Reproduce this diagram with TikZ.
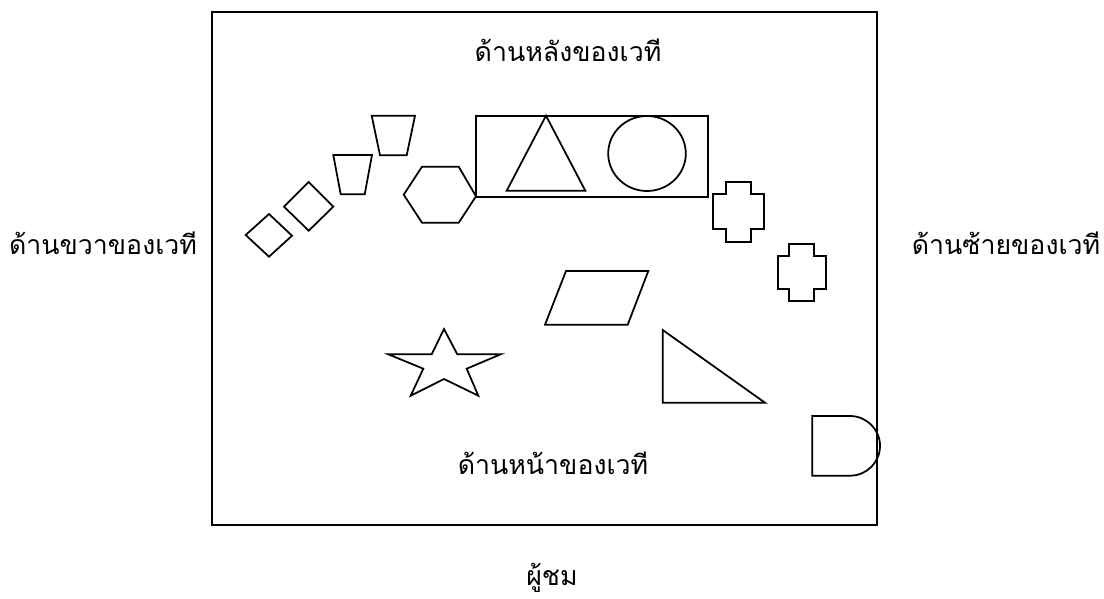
\documentclass[tikz,border=0pt]{standalone}
\usepackage{fontspec}
\setmainfont[Script=Thai]{Loma}
\usepackage{tikz}
\usetikzlibrary{positioning}

\begin{document}
\begin{tikzpicture}[x=0.02cm, y=-0.02cm, font=\fontsize{15.2}{18}\selectfont,
    prop/.style={draw, line width=1pt, line join=miter},
    lbl/.style={inner sep=0pt}]
    \useasboundingbox (0,0) rectangle (1104,598);
    % stage
    \draw[line width=1pt] (212,12) rectangle (877,525);
    \node[lbl] (back) at (568,50) {ด้านหลังของเวที};
    \node[lbl] (front) at (553,463) {ด้านหน้าของเวที};
    \node[lbl] (right) at (103,243) {ด้านขวาของเวที};
    \node[lbl] (left) at (1006,243) {ด้านซ้ายของเวที};
    \node[lbl] (crowd) at (552,578) {ผู้ชม};
    % props on stage
    \draw[prop] (245.7,235) -- (269,214) -- (292,235.7) -- (269,256.7) -- cycle;
    \draw[prop] (284,206.7) -- (308.7,182) -- (333.3,206.7) -- (308.7,230.7) -- cycle;
    \draw[prop] (333.3,155) -- (372,155) -- (364.7,194.3) -- (340.7,194.3) -- cycle;
    \draw[prop] (371.7,115.7) -- (415,115.7) -- (406.7,155.3) -- (380,155.3) -- cycle;
    \draw[prop] (403.7,194.7) -- (422,166.7) -- (458.7,166.7) -- (476,196.3)
        -- (458.7,222.7) -- (422,222.7) -- cycle;
    \draw[prop] (476,115.7) rectangle (708,196.7);
    \draw[prop] (546,115.7) -- (585.3,190.7) -- (506.7,190.7) -- cycle;
    \draw[prop] (647,153.5) ellipse [x radius=38.8, y radius=37.5];
    \draw[prop] (725.7,182.3) -- (751.3,182.3) -- (751.3,194.3) -- (764,194.3)
        -- (764,229.3) -- (751.3,229.3) -- (751.3,241.7) -- (725.7,241.7)
        -- (725.7,229.3) -- (713.3,229.3) -- (713.3,194.3) -- (725.7,194.3) -- cycle;
    \draw[prop] (789.3,244) -- (814,244) -- (814,256) -- (826,256)
        -- (826,289) -- (814,289) -- (814,300.7) -- (789.3,300.7)
        -- (789.3,289) -- (777.7,289) -- (777.7,256) -- (789.3,256) -- cycle;
    \draw[prop] (566,271) -- (648.3,271) -- (627.7,324.7) -- (545,324.7) -- cycle;
    \draw[prop] (444,329) -- (457.3,354.3) -- (500.7,354.3) -- (466.7,368.7)
        -- (478.3,395.7) -- (444,379) -- (410.7,395.7) -- (423.3,368.7)
        -- (388.3,354.3) -- (431.7,354.3) -- cycle;
    \draw[prop] (662.7,330) -- (765,402.7) -- (662.7,402.7) -- cycle;
    \draw[prop] (812.3,416) -- (850,416) arc[start angle=-90, end angle=90, x radius=30, y radius=29.85]
        -- (812.3,475.7) -- cycle;
\end{tikzpicture}
\end{document}
